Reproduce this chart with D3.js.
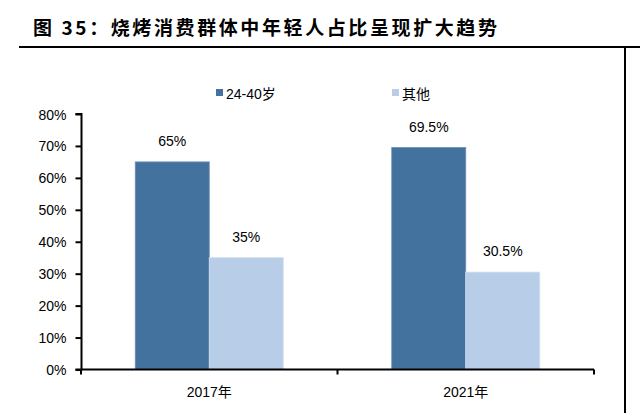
<!DOCTYPE html>
<html>
<head>
<meta charset="utf-8">
<script src="https://cdn.jsdelivr.net/npm/d3@7"></script>
<style>
  html, body { margin: 0; padding: 0; background: #fff; }
  svg { display: block; }
  text { font-family: "Liberation Sans", Arial, "Noto Sans CJK SC", sans-serif; fill: #000; }
</style>
</head>
<body>
<svg id="chart" width="640" height="413"></svg>
<script>
const title = "图 35：烧烤消费群体中年轻人占比呈现扩大趋势";
const categories = ["2017年", "2021年"];
const seriesNames = ["24-40岁", "其他"];
const youngValues = [65, 69.5];
const otherValues = [35, 30.5];
const yTicks = [0, 10, 20, 30, 40, 50, 60, 70, 80];
const colors = ["#44729e", "#b8cde7"];

const svg = d3.select("#chart");

// Title and frame lines
svg.append("text")
  .attr("x", 33).attr("y", 35)
  .style("font-family", "'Noto Sans CJK SC', sans-serif")
  .style("font-weight", "bold")
  .style("font-size", "19px")
  .style("letter-spacing", "2.6px")
  .text(title);
svg.append("line").attr("x1", 19).attr("x2", 640).attr("y1", 47).attr("y2", 47)
  .attr("stroke", "#000").attr("stroke-width", 2);
svg.append("line").attr("x1", 625).attr("x2", 625).attr("y1", 47).attr("y2", 413)
  .attr("stroke", "#000").attr("stroke-width", 2);

const x = d3.scaleBand().domain(categories).range([81, 594]).padding(0);
const inner = d3.scaleBand().domain(seriesNames).range([0, 148]).padding(0);
const y = d3.scaleLinear().domain([0, 80]).range([369.5, 114]);

const data = categories.map((c, i) => ({ cat: c, vals: [youngValues[i], otherValues[i]] }));

// Bars
const groups = svg.selectAll("g.grp").data(data).join("g")
  .attr("class", "grp")
  .attr("transform", d => `translate(${x(d.cat) + x.bandwidth() / 2 - 74},0)`);

groups.selectAll("rect").data(d => d.vals.map((v, k) => ({ v, k }))).join("rect")
  .attr("x", d => inner(seriesNames[d.k]))
  .attr("width", inner.bandwidth())
  .attr("y", d => y(d.v))
  .attr("height", d => y(0) - y(d.v))
  .attr("fill", d => colors[d.k])
  .attr("stroke", d => d.k === 0 ? "#6a8fb5" : "#d0def0")
  .attr("stroke-width", 0.8);

groups.selectAll("text.val").data(d => d.vals.map((v, k) => ({ v, k }))).join("text")
  .attr("class", "val")
  .attr("x", d => inner(seriesNames[d.k]) + inner.bandwidth() / 2)
  .attr("y", d => y(d.v) - 16)
  .attr("text-anchor", "middle")
  .style("font-size", "14px")
  .text(d => d.v + "%");

// Y axis
const yAxis = d3.axisLeft(y).tickValues(yTicks).tickFormat(d => d + "%").tickSize(6).tickPadding(9);
const yg = svg.append("g").attr("transform", "translate(81.5,0)").call(yAxis);
yg.select(".domain").attr("stroke", "#000").attr("stroke-width", 2).attr("d", `M-6,${y(80)}H0V${y(0)}H-6`);
yg.selectAll(".tick line").attr("stroke", "#000").attr("stroke-width", 2);
yg.selectAll(".tick text").style("font-size", "14px").style("font-family", "'Liberation Sans', Arial, sans-serif").attr("dy", "0.36em");

// X axis
const xg = svg.append("g").attr("transform", `translate(0,${y(0)})`);
xg.append("line").attr("x1", 81).attr("x2", 594).attr("y1", 0).attr("y2", 0)
  .attr("stroke", "#000").attr("stroke-width", 2);
const xTickPos = [x(categories[0]), x(categories[1]), x(categories[1]) + x.bandwidth()];
xg.selectAll("line.tk").data(xTickPos).join("line").attr("class", "tk")
  .attr("x1", d => d).attr("x2", d => d).attr("y1", 0).attr("y2", 5)
  .attr("stroke", "#000").attr("stroke-width", 2);
xg.selectAll("text").data(categories).join("text")
  .attr("x", d => x(d) + x.bandwidth() / 2)
  .attr("y", 27.5)
  .attr("text-anchor", "middle")
  .style("font-size", "14px")
  .text(d => d);

// Legend
const legendX = [216, 392];
const lg = svg.selectAll("g.leg").data(seriesNames).join("g").attr("class", "leg")
  .attr("transform", (d, i) => `translate(${legendX[i]},89)`);
lg.append("rect").attr("width", 7).attr("height", 7).attr("fill", (d, i) => colors[i]);
lg.append("text").attr("x", 10).attr("y", 9.5).style("font-size", "14px").text(d => d);
</script>
</body>
</html>
